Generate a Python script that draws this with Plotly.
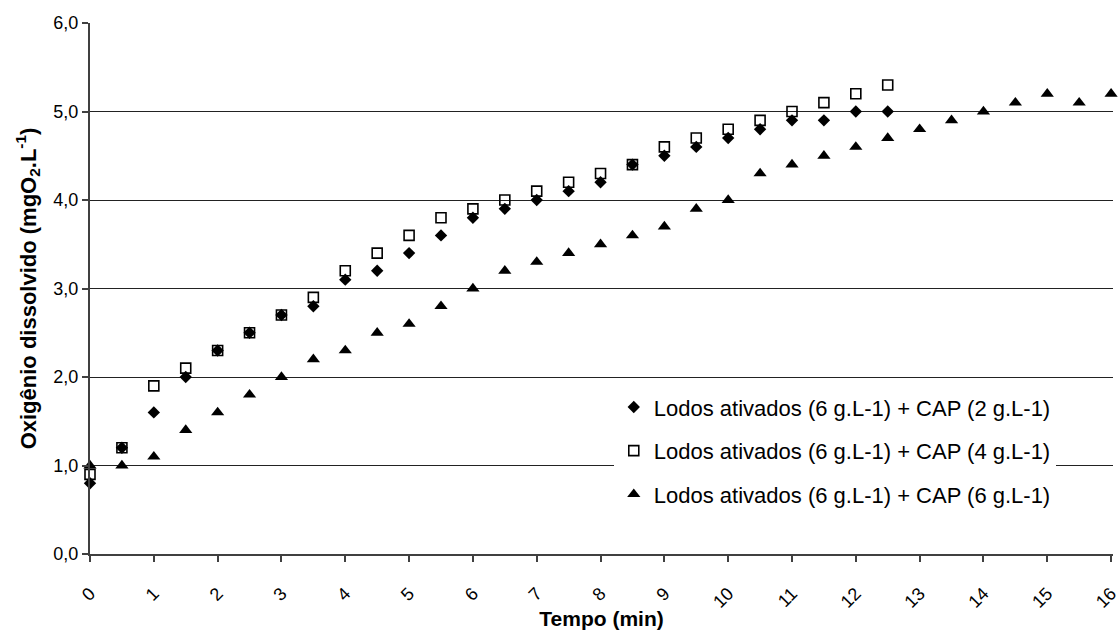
import plotly.graph_objects as go

# Tempo (min) e oxigênio dissolvido (mgO2/L) por ensaio
tempo_cap2 = [0, 0.5, 1, 1.5, 2, 2.5, 3, 3.5, 4, 4.5, 5, 5.5, 6, 6.5, 7, 7.5,
              8, 8.5, 9, 9.5, 10, 10.5, 11, 11.5, 12, 12.5]
od_cap2 = [0.8, 1.2, 1.6, 2.0, 2.3, 2.5, 2.7, 2.8, 3.1, 3.2, 3.4, 3.6, 3.8, 3.9,
           4.0, 4.1, 4.2, 4.4, 4.5, 4.6, 4.7, 4.8, 4.9, 4.9, 5.0, 5.0]

tempo_cap4 = [0, 0.5, 1, 1.5, 2, 2.5, 3, 3.5, 4, 4.5, 5, 5.5, 6, 6.5, 7, 7.5,
              8, 8.5, 9, 9.5, 10, 10.5, 11, 11.5, 12, 12.5]
od_cap4 = [0.9, 1.2, 1.9, 2.1, 2.3, 2.5, 2.7, 2.9, 3.2, 3.4, 3.6, 3.8, 3.9, 4.0,
           4.1, 4.2, 4.3, 4.4, 4.6, 4.7, 4.8, 4.9, 5.0, 5.1, 5.2, 5.3]

tempo_cap6 = [0, 0.5, 1, 1.5, 2, 2.5, 3, 3.5, 4, 4.5, 5, 5.5, 6, 6.5, 7, 7.5,
              8, 8.5, 9, 9.5, 10, 10.5, 11, 11.5, 12, 12.5, 13, 13.5, 14, 14.5,
              15, 15.5, 16]
od_cap6 = [1.0, 1.0, 1.1, 1.4, 1.6, 1.8, 2.0, 2.2, 2.3, 2.5, 2.6, 2.8, 3.0, 3.2,
           3.3, 3.4, 3.5, 3.6, 3.7, 3.9, 4.0, 4.3, 4.4, 4.5, 4.6, 4.7, 4.8, 4.9,
           5.0, 5.1, 5.2, 5.1, 5.2]

nomes = [
    "Lodos ativados (6 g.L-1) + CAP (2 g.L-1)",
    "Lodos ativados (6 g.L-1) + CAP (4 g.L-1)",
    "Lodos ativados (6 g.L-1) + CAP (6 g.L-1)",
]

x_ticks = list(range(0, 17))
y_ticks = [0, 1, 2, 3, 4, 5, 6]

FONT = "Arial, 'Liberation Sans', sans-serif"
AXIS_COLOR = "#404040"

fig = go.Figure()
fig.add_trace(go.Scatter(
    x=tempo_cap2, y=od_cap2, mode="markers", name=nomes[0], legendgroup="a",
    marker=dict(symbol="diamond", size=9.5, color="black", line=dict(width=0)),
    cliponaxis=False,
))
fig.add_trace(go.Scatter(
    x=tempo_cap4, y=od_cap4, mode="markers", name=nomes[1], legendgroup="b",
    marker=dict(symbol="square-open", size=10, color="black", line=dict(width=1.6, color="black")),
    cliponaxis=False,
))
fig.add_trace(go.Scatter(
    x=tempo_cap6, y=od_cap6, mode="markers", name=nomes[2], legendgroup="c",
    marker=dict(symbol="triangle-up", size=11.5, color="black", line=dict(width=0)),
    cliponaxis=False,
))

fig.update_layout(
    width=1120, height=635,
    margin=dict(l=90, r=0, t=23, b=81),
    paper_bgcolor="white", plot_bgcolor="white",
    separators=",.",
    font=dict(family=FONT, color="black", size=18),
    showlegend=True,
    legend=dict(
        x=0.512, y=0.316, xanchor="left", yanchor="top",
        bgcolor="white", borderwidth=0,
        font=dict(family=FONT, size=22, color="black"),
        tracegroupgap=12,
        itemwidth=30,
    ),
    xaxis=dict(
        range=[0, 16.03],
        tickmode="array", tickvals=x_ticks, ticktext=[str(v) for v in x_ticks],
        tickangle=-45,
        ticks="outside", ticklen=6, tickwidth=1.5, tickcolor=AXIS_COLOR,
        ticklabelstandoff=14,
        ticklabeloverflow="allow",
        showline=True, linecolor=AXIS_COLOR, linewidth=2,
        showgrid=False, zeroline=False,
        tickfont=dict(family=FONT, size=18, color="black"),
        title=dict(text="<b>Tempo (min)</b>", font=dict(family=FONT, size=21, color="black"),
                   standoff=0),
    ),
    yaxis=dict(
        range=[0, 6],
        tickmode="array", tickvals=y_ticks,
        tickformat=".1f",
        ticks="outside", ticklen=6, tickwidth=1.5, tickcolor=AXIS_COLOR,
        showline=True, linecolor=AXIS_COLOR, linewidth=2,
        showgrid=True, gridcolor="#222222", gridwidth=1,
        zeroline=False,
        tickfont=dict(family=FONT, size=18, color="black"),
        title=dict(text="<b>Oxigênio dissolvido (mgO<sub>2</sub>.L<sup>-1</sup>)</b>",
                   font=dict(family=FONT, size=22, color="black"), standoff=11),
    ),
)

fig.write_html("out.html")
